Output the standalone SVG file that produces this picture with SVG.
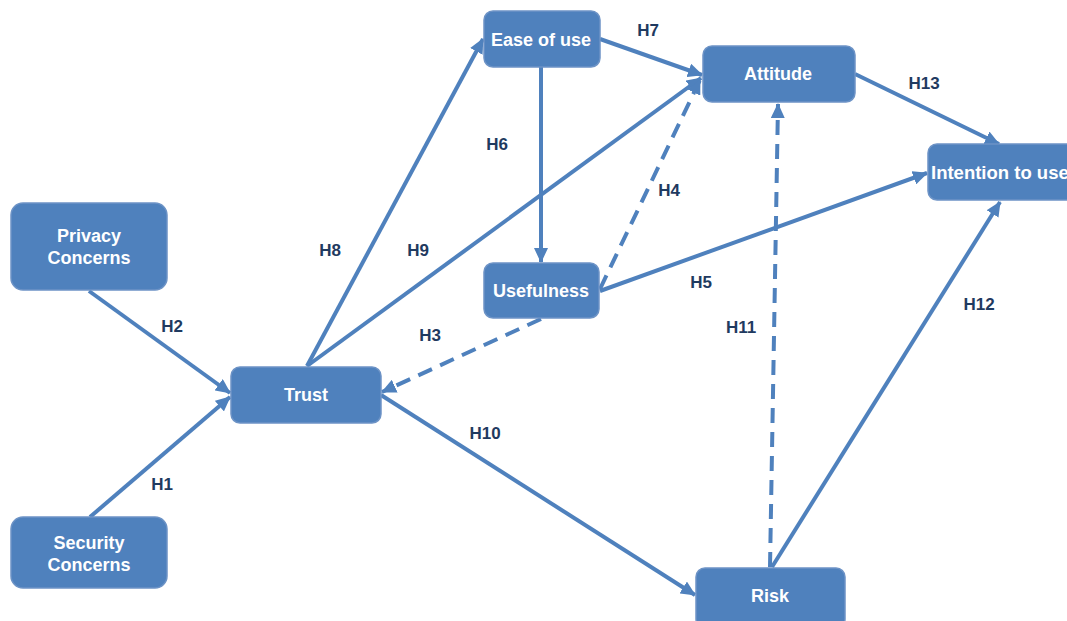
<svg xmlns="http://www.w3.org/2000/svg" width="1067" height="621" viewBox="0 0 1067 621">
<style>
.node rect{fill:#4f81bd;stroke:#6d93c6;stroke-width:1.5}
.node text{fill:#fff;font-family:"Liberation Sans",Arial,sans-serif;font-weight:bold;font-size:18px;text-anchor:middle}
.edge{stroke:#4f81bd;stroke-width:4;fill:none;marker-end:url(#ah)}
.dash{stroke-dasharray:15 9}
.lbl{fill:#1f3a60;font-family:"Liberation Sans",Arial,sans-serif;font-weight:bold;font-size:17px;text-anchor:middle}
</style>
<defs>
<marker id="ah" markerUnits="userSpaceOnUse" markerWidth="16" markerHeight="14" refX="14" refY="7" orient="auto">
<path d="M0,0 L15,7 L0,14 Z" fill="#4f81bd"/>
</marker>
</defs>
<rect width="1067" height="621" fill="#fff"/>
<g id="connectors">
<line class="edge" x1="89" y1="291" x2="230" y2="393"/>
<line class="edge" x1="90" y1="517" x2="230" y2="397"/>
<line class="edge" x1="307" y1="366" x2="483" y2="39"/>
<line class="edge" x1="307" y1="366" x2="701" y2="78"/>
<line class="edge" x1="600" y1="39" x2="702" y2="75"/>
<line class="edge" x1="541" y1="67" x2="541" y2="262"/>
<line class="edge dash" x1="600" y1="289" x2="700" y2="80"/>
<line class="edge dash" x1="541" y1="319" x2="382" y2="392"/>
<line class="edge" x1="600" y1="291" x2="927" y2="173"/>
<line class="edge" x1="855" y1="74" x2="999" y2="144"/>
<line class="edge dash" x1="770" y1="567" x2="778" y2="104"/>
<line class="edge" x1="772" y1="567" x2="1000" y2="202"/>
<line class="edge" x1="381" y1="395" x2="695" y2="595"/>
</g>
<g id="labels">
<text class="lbl" x="648" y="36">H7</text>
<text class="lbl" x="924" y="89">H13</text>
<text class="lbl" x="497" y="150">H6</text>
<text class="lbl" x="669" y="196">H4</text>
<text class="lbl" x="330" y="256">H8</text>
<text class="lbl" x="418" y="256">H9</text>
<text class="lbl" x="701" y="288">H5</text>
<text class="lbl" x="979" y="310">H12</text>
<text class="lbl" x="172" y="332">H2</text>
<text class="lbl" x="430" y="341">H3</text>
<text class="lbl" x="741" y="333">H11</text>
<text class="lbl" x="485" y="439">H10</text>
<text class="lbl" x="162" y="490">H1</text>
</g>
<g id="privacy" class="node"><rect x="11" y="203" width="156" height="87" rx="12"/><text x="89" y="242">Privacy</text><text x="89" y="264">Concerns</text></g>
<g id="security" class="node"><rect x="11" y="517" width="156" height="71" rx="12"/><text x="89" y="549">Security</text><text x="89" y="571">Concerns</text></g>
<g id="trust" class="node"><rect x="231" y="367" width="150" height="56" rx="9"/><text x="306" y="401">Trust</text></g>
<g id="ease" class="node"><rect x="484" y="11" width="116" height="56" rx="9"/><text x="541" y="46">Ease of use</text></g>
<g id="attitude" class="node"><rect x="703" y="46" width="152" height="56" rx="9"/><text x="778" y="80">Attitude</text></g>
<g id="usefulness" class="node"><rect x="484" y="263" width="115" height="55" rx="9"/><text x="541" y="297">Usefulness</text></g>
<g id="intention" class="node"><rect x="928" y="144" width="160" height="56" rx="9"/><text x="931" y="179" style="text-anchor:start;font-size:18.5px">Intention to use</text></g>
<g id="risk" class="node"><rect x="696" y="568" width="149" height="60" rx="9"/><text x="770" y="602">Risk</text></g>
</svg>
